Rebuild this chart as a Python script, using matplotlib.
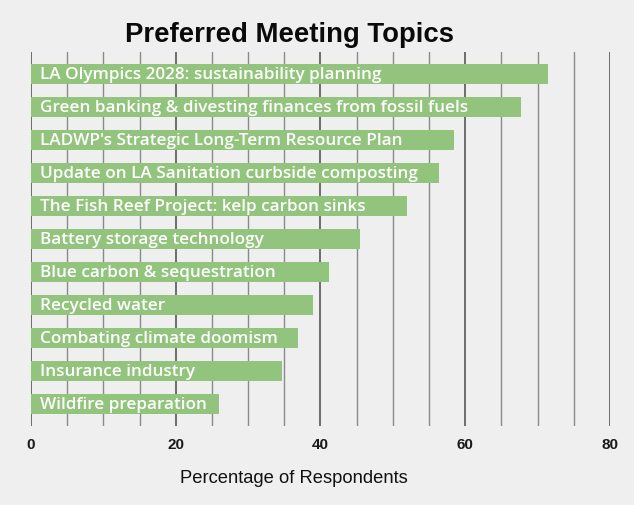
import matplotlib
matplotlib.use("Agg")
import numpy as np
from matplotlib import pyplot as plt
from matplotlib.ticker import MultipleLocator

# survey results, top to bottom as drawn
topics = [
    "LA Olympics 2028: sustainability planning",
    "Green banking & divesting finances from fossil fuels",
    "LADWP's Strategic Long-Term Resource Plan",
    "Update on LA Sanitation curbside composting",
    "The Fish Reef Project: kelp carbon sinks",
    "Battery storage technology",
    "Blue carbon & sequestration",
    "Recycled water",
    "Combating climate doomism",
    "Insurance industry",
    "Wildfire preparation",
]
percent = [71.5, 67.7, 58.5, 56.4, 52.0, 45.5, 41.2, 39.0, 36.9, 34.7, 26.0]
x_ticks = [0, 20, 40, 60, 80]

bg = "#efefef"
bar_color = "#93c47d"

fig = plt.figure(figsize=(6.34, 5.06), dpi=100, facecolor=bg)
ax = fig.add_axes([0.0489, 0.1567, 0.9131, 0.738])
ax.set_facecolor(bg)

ypos = np.arange(len(topics))
ax.barh(ypos, percent, height=0.6, color=bar_color, zorder=3)

for y, name in zip(ypos, topics):
    ax.annotate(name, xy=(0, y), xytext=(6.5, 0), textcoords="offset points",
                va="center", ha="left", color="white", fontsize=12.35,
                fontweight="semibold", family="Open Sans", zorder=4)

ax.set_xlim(0, 80)
ax.set_ylim(10.66, -0.66)

# minor grid every 5, darker major grid every 20
ax.xaxis.set_major_locator(MultipleLocator(20))
ax.xaxis.set_minor_locator(MultipleLocator(5))
ax.grid(axis="x", which="minor", color="#8a8a8a", linewidth=1.0, zorder=1)
ax.grid(axis="x", which="major", color="#4a4a4a", linewidth=1.1, zorder=2)
ax.set_xticks(x_ticks)
ax.set_yticks([])
ax.tick_params(axis="x", which="both", length=0, pad=8)
for lbl in ax.get_xticklabels():
    lbl.set_family("Liberation Sans")
    lbl.set_fontweight("bold")
    lbl.set_fontsize(11)
    lbl.set_color("#1a1a1a")

for s in ax.spines.values():
    s.set_visible(False)

fig.text(0.4637, 0.0553, "Percentage of Respondents", ha="center",
         va="center", family="Liberation Sans", fontsize=13.2,
         color="#111111")
fig.text(0.4566, 0.931, "Preferred Meeting Topics", ha="center", va="center",
         family="Liberation Sans", fontweight="bold", fontsize=19.8,
         color="#0a0a0a")

fig.savefig("out.png", dpi=100, facecolor=bg)
